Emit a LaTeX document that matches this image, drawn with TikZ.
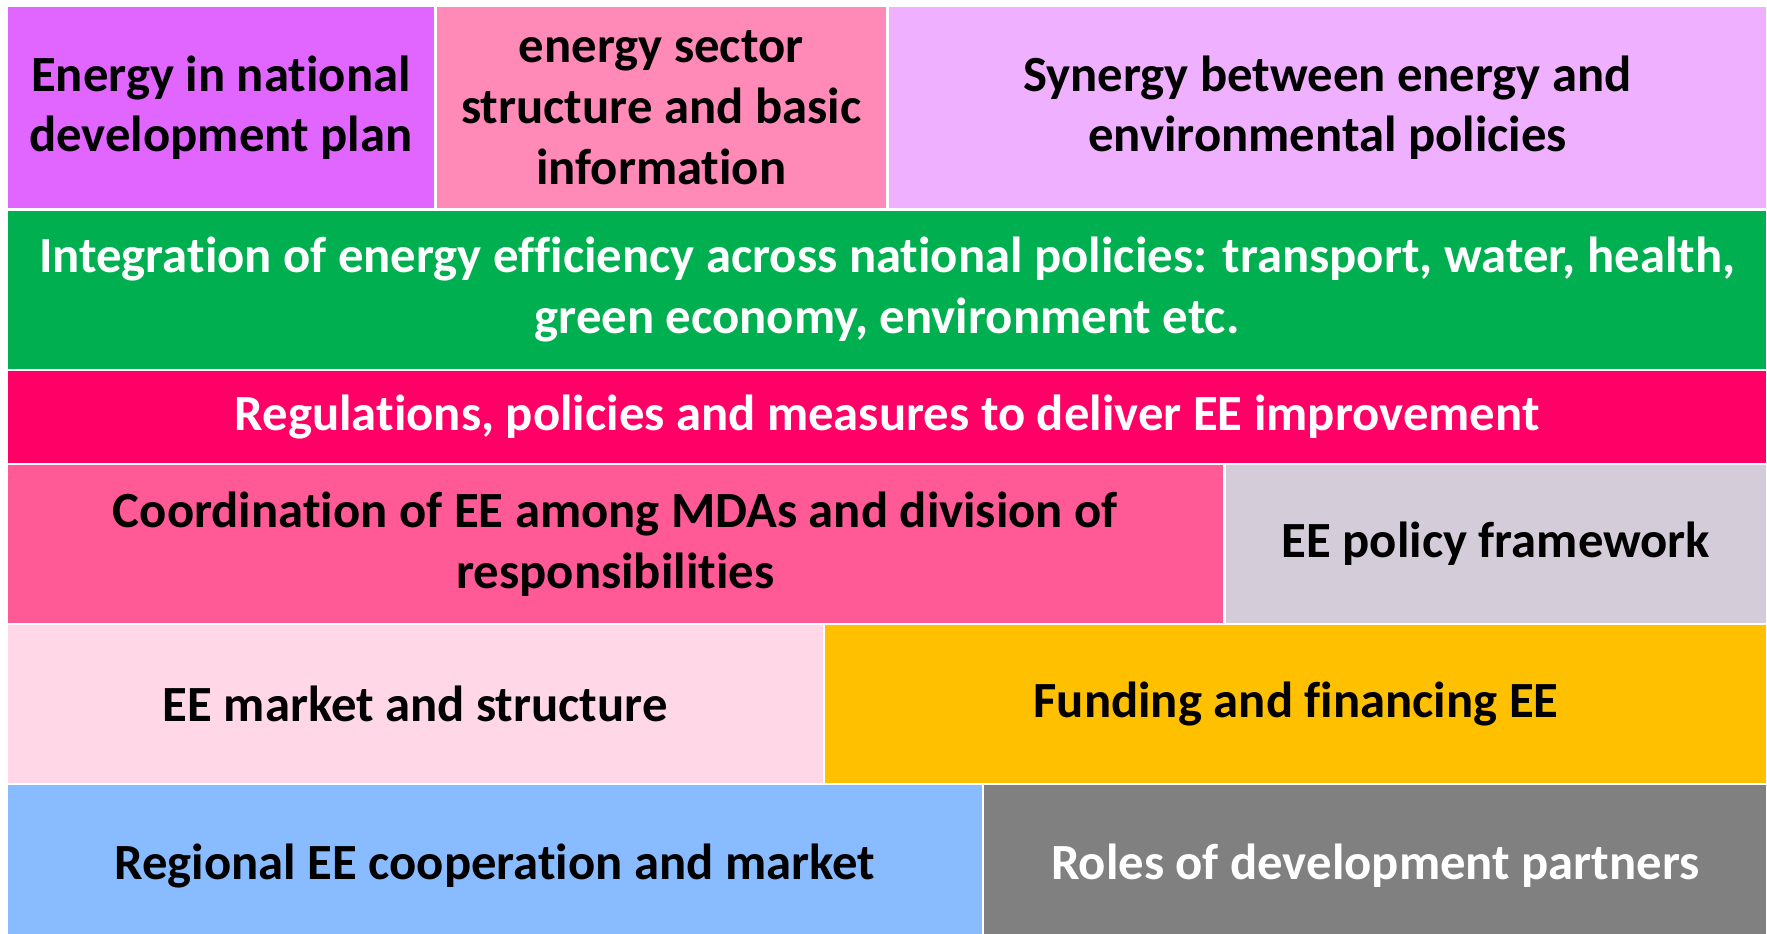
\documentclass[tikz,border=0pt]{standalone}
\usepackage{fontspec}
\setmainfont{Carlito}[Ligatures=NoCommon]
\usepackage{tikz}

\definecolor{planviolet}{HTML}{E066FF}
\definecolor{sectorpink}{HTML}{FF89B7}
\definecolor{synergylilac}{HTML}{EFB1FF}
\definecolor{integgreen}{HTML}{00B050}
\definecolor{regmagenta}{HTML}{FF0066}
\definecolor{coordpink}{HTML}{FF5A96}
\definecolor{frameworkgrey}{HTML}{D5CCDA}
\definecolor{marketpink}{HTML}{FFD7E7}
\definecolor{fundamber}{HTML}{FFC000}
\definecolor{regionblue}{HTML}{88BBFF}
\definecolor{partnergrey}{HTML}{808080}

\tikzset{cell/.style={draw=white, line width=2.5pt, anchor=north west, inner sep=0pt,
  align=center, font=\fontsize{45}{54}\selectfont\bfseries}}

\begin{document}
\begin{tikzpicture}[x=1pt,y=-1pt]
\useasboundingbox (0,0) rectangle (1568,828);
\node[cell, fill=planviolet, minimum width=380.5, minimum height=180.5] (plan) at (4.5,4) {Energy in national\\development plan};
\node[cell, fill=sectorpink, minimum width=401, minimum height=180.5] (sector) at (385,4) {energy sector\\structure and basic\\information};
\node[cell, fill=synergylilac, minimum width=781.5, minimum height=180.5] (synergy) at (786,4) {Synergy between energy and\\environmental policies};
\node[cell, fill=integgreen, text=white, minimum width=1563, minimum height=142.5] (integ) at (4.5,184.5) {Integration of energy efficiency across national policies: transport, water, health,\\green economy, environment etc.};
\node[cell, fill=regmagenta, text=white, minimum width=1563, minimum height=83.5] (reg) at (4.5,327) {Regulations, policies and measures to deliver EE improvement};
\node[cell, fill=coordpink, minimum width=1080.5, minimum height=142] (coord) at (4.5,410.5) {Coordination of EE among MDAs and division of\\responsibilities};
\node[cell, fill=frameworkgrey, minimum width=482.5, minimum height=142] (framework) at (1085,410.5) {EE policy framework};
\node[cell, fill=marketpink, minimum width=725.5, minimum height=142] (market) at (4.5,552.5) {EE market and structure};
\node[cell, fill=fundamber, minimum width=837.5, minimum height=142] (funding) at (730,552.5) {Funding and financing EE};
\node[cell, fill=regionblue, minimum width=866.5, minimum height=145] (region) at (4.5,694.5) {Regional EE cooperation and market};
\node[cell, fill=partnergrey, text=white, minimum width=696.5, minimum height=145] (partners) at (871,694.5) {Roles of development partners};
\end{tikzpicture}
\end{document}
